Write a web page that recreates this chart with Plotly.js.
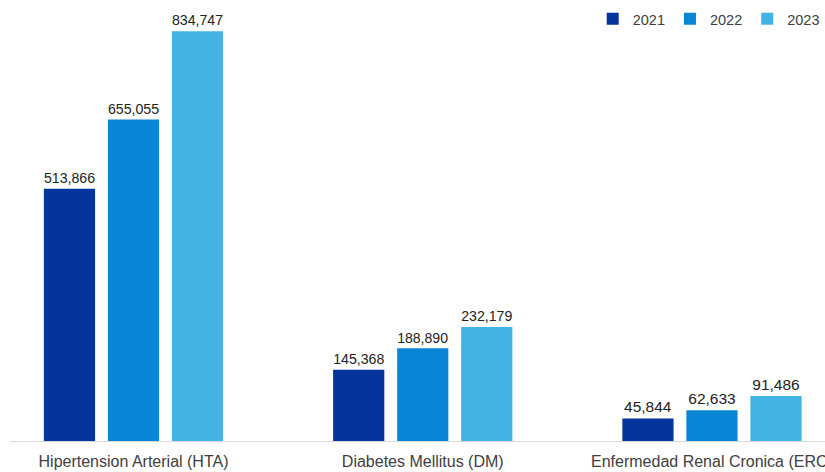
<!DOCTYPE html>
<html>
<head>
<meta charset="utf-8">
<script src="https://cdn.plot.ly/plotly-3.0.1.min.js"></script>
<style>html,body{margin:0;padding:0;background:#fff;overflow:hidden;width:825px;height:472px;}#chart{width:856px;height:472px;}</style>
</head>
<body>
<div id="chart"></div>
<script>
const categories = ["Hipertension Arterial (HTA)", "Diabetes Mellitus (DM)", "Enfermedad Renal Cronica (ERC)"];
const years = ["2021", "2022", "2023"];
const values2021 = [513866, 145368, 45844];
const values2022 = [655055, 188890, 62633];
const values2023 = [834747, 232179, 91486];
const colors = ["#05349c", "#0a86d6", "#43b2e5"];

const series = [values2021, values2022, values2023];
const fmt = v => v.toLocaleString("en-US");
const traces = series.map((vals, i) => ({
  type: "bar",
  name: years[i],
  x: categories,
  y: vals,
  marker: {color: colors[i]},
  text: vals.map(fmt),
  textposition: "outside",
  cliponaxis: false,
  textfont: {family: "Liberation Sans, Arial, sans-serif", size: 15.5, color: "#222"},
  hoverinfo: "none"
}));

const layout = {
  width: 856, height: 472,
  margin: {l: 10, r: 0, t: 9, b: 31},
  paper_bgcolor: "#fff", plot_bgcolor: "#fff",
  font: {family: "Liberation Sans, Arial, sans-serif", color: "#404040"},
  barmode: "group",
  bargap: 0.336,
  bargroupgap: 0.2,
  showlegend: true,
  legend: {orientation: "h", x: 0.963, xanchor: "right", y: 0.977, yanchor: "middle",
           font: {size: 14.5, color: "#404040"}, itemwidth: 30, traceorder: "normal"},
  xaxis: {type: "category", range: [-0.427, 2.498], showline: true, linecolor: "#d9d9d9", linewidth: 1,
          ticks: "", ticklabelstandoff: 6, automargin: false, tickfont: {size: 16, color: "#404040"},
          showgrid: false, fixedrange: true},
  yaxis: {range: [0, 880000], visible: false, showgrid: false, zeroline: false, automargin: false, fixedrange: true}
};
Plotly.newPlot("chart", traces, layout, {displayModeBar: false, staticPlot: true});
</script>
</body>
</html>
